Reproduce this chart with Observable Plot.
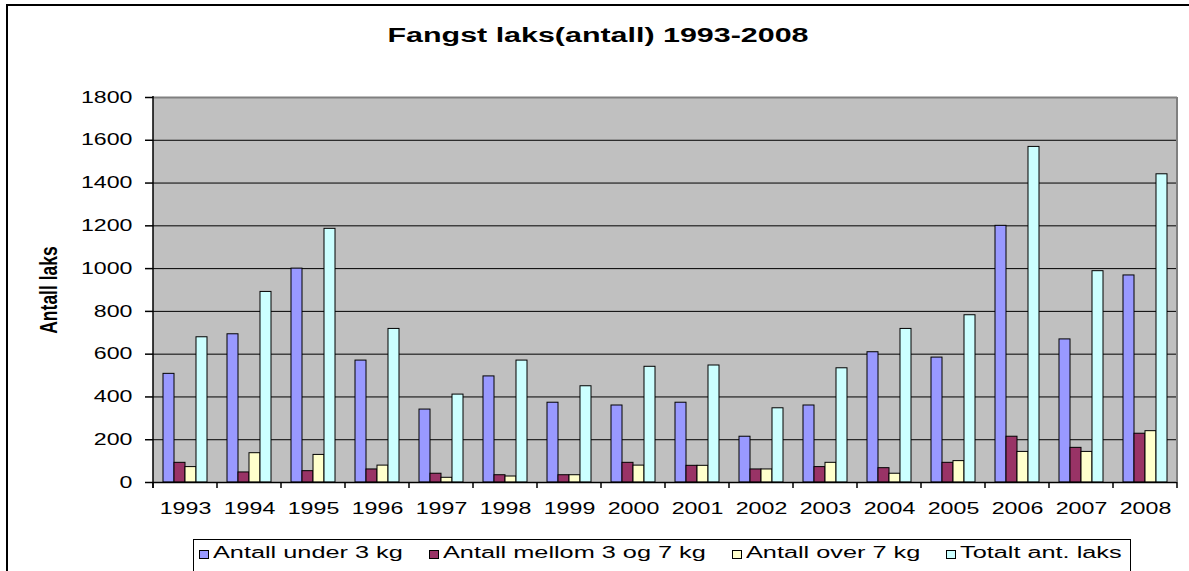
<!DOCTYPE html>
<html><head><meta charset="utf-8">
<script src="https://cdn.jsdelivr.net/npm/d3@7"></script>
<script src="https://cdn.jsdelivr.net/npm/@observablehq/plot@0.6"></script>
<style>
html,body{margin:0;padding:0;background:#fff;overflow:hidden;width:1189px;height:571px;}
body{position:relative;font-family:"Liberation Sans",Arial,sans-serif;color:#000;}
#border{position:absolute;left:6px;top:4px;width:1300px;height:700px;border:2px solid #000;box-sizing:border-box;}
#title{position:absolute;left:598px;top:26px;font-weight:bold;font-size:19.5px;line-height:19.5px;white-space:nowrap;transform:translate(-50%,0) scaleX(1.56);transform-origin:center;}
#ylabel{position:absolute;left:50px;top:289.5px;font-weight:bold;font-size:17.5px;line-height:17.5px;white-space:nowrap;transform:translate(-50%,-50%) scaleX(1.33) rotate(-90deg);transform-origin:center;}
#chart{position:absolute;left:0;top:70px;}
#legend{position:absolute;left:193px;top:539px;width:938px;height:45px;border:1px solid #000;box-sizing:border-box;background:#fff;display:flex;justify-content:space-between;align-items:flex-start;padding:5px 8px 0 5px;}
.item{display:flex;align-items:center;font-size:16px;line-height:16px;white-space:nowrap;}
.sw{width:10px;height:9px;border:1px solid #000;box-sizing:border-box;margin-right:4px;margin-top:2px;}
.lt{display:inline-block;transform-origin:left center;}
</style></head>
<body>
<div id="border"></div>
<div id="title">Fangst laks(antall) 1993-2008</div>
<div id="ylabel">Antall laks</div>
<div id="chart"></div>
<div id="legend"></div>
<script>
const years = ["1993","1994","1995","1996","1997","1998","1999","2000","2001","2002","2003","2004","2005","2006","2007","2008"];
const under3 = [508, 693, 1000, 570, 341, 496, 373, 360, 373, 214, 360, 609, 584, 1200, 669, 968];
const mellom = [92, 47, 53, 61, 41, 34, 34, 92, 78, 61, 72, 67, 92, 214, 162, 228];
const over7  = [72, 137, 129, 79, 22, 28, 34, 79, 78, 61, 92, 41, 100, 143, 143, 240];
const totalt = [679, 891, 1186, 718, 411, 570, 450, 541, 547, 347, 534, 718, 782, 1569, 988, 1441];
const seriesNames = ["Antall under 3 kg", "Antall mellom 3 og 7 kg", "Antall over 7 kg", "Totalt ant. laks"];
const seriesColors = ["#9999FF", "#993366", "#FFFFCC", "#CCFFFF"];
const yTicks = [0, 200, 400, 600, 800, 1000, 1200, 1400, 1600, 1800];

const seriesValues = [under3, mellom, over7, totalt];
const data = [];
years.forEach((yr, i) => seriesValues.forEach((arr, j) => data.push({year: yr, series: seriesNames[j], value: arr[i]})));

const H = 460, MT = 27, MB = 48, ML = 152, MR = 12;
const chart = Plot.plot({
  width: 1189, height: H,
  marginTop: MT, marginBottom: MB, marginLeft: ML, marginRight: MR,
  style: {fontFamily: '"Liberation Sans", Arial, sans-serif', fontSize: "16px", color: "black", background: "transparent", overflow: "visible"},
  fx: {domain: years, padding: 0},
  x: {domain: seriesNames, paddingInner: 0, paddingOuter: 0.76, axis: null},
  y: {domain: [0, 1800]},
  color: {domain: seriesNames, range: seriesColors},
  marks: [
    Plot.gridY(yTicks, {stroke: "black", strokeOpacity: 1, strokeWidth: 1}),
    Plot.ruleY([1800], {stroke: "#808080", strokeWidth: 2}),
    Plot.barY(data, {fx: "year", x: "series", y: "value", fill: "series", stroke: "black", strokeWidth: 1, inset: 0}),
    Plot.ruleY([0], {stroke: "black", strokeWidth: 1.5}),
    Plot.axisY(yTicks, {tickSize: 8, tickPadding: 13, label: null, strokeWidth: 1.5, tickFormat: d => String(d)}),
    Plot.axisFx({anchor: "bottom", tickSize: 0, tickPadding: 20, label: null})
  ]
});
document.getElementById("chart").appendChild(chart);

// plot-area background, edges and category boundary ticks, placed with Plot's own scales
const fx = chart.scale("fx");
const y = chart.scale("y");
const y0 = y.apply(0), yTop = y.apply(1800);
const xLeft = fx.apply(years[0]);
const xRight = fx.apply(years[years.length - 1]) + fx.bandwidth;
const edges = years.map(yr => fx.apply(yr)).concat([xRight]);
const svg = d3.select(chart);
svg.insert("rect", ":first-child")
  .attr("x", xLeft).attr("y", yTop).attr("width", xRight - xLeft).attr("height", y0 - yTop)
  .attr("fill", "#c0c0c0");
const g = svg.append("g");
g.append("line").attr("stroke", "#808080").attr("stroke-width", 2)
  .attr("x1", xRight).attr("x2", xRight).attr("y1", yTop).attr("y2", y0);
g.append("g").attr("stroke", "black").attr("stroke-width", 1.5)
  .selectAll("line").data(edges).join("line")
  .attr("x1", d => d).attr("x2", d => d)
  .attr("y1", y0).attr("y2", y0 + 6);
g.append("line").attr("stroke", "black").attr("stroke-width", 1.5)
  .attr("x1", xLeft).attr("x2", xLeft).attr("y1", yTop - 1).attr("y2", y0 + 6);

// horizontal stretch of the SVG texts (the reference is stretched horizontally)
chart.querySelectorAll("text").forEach(t => {
  const x = +t.getAttribute("x") || 0;
  t.setAttribute("transform", (t.getAttribute("transform") || "") + ` translate(${x},0) scale(1.45,1) translate(${-x},0)`);
});

// legend
const legend = document.getElementById("legend");
seriesNames.forEach((name, i) => {
  const item = document.createElement("div");
  item.className = "item";
  const sw = document.createElement("span");
  sw.className = "sw";
  sw.style.background = seriesColors[i];
  const lt = document.createElement("span");
  lt.className = "lt";
  lt.textContent = name;
  item.appendChild(sw); item.appendChild(lt);
  legend.appendChild(item);
  const w = lt.getBoundingClientRect().width;
  lt.style.width = (w * 1.58) + "px";
  lt.style.transform = "scaleX(1.58)";
});
</script>
</body></html>
